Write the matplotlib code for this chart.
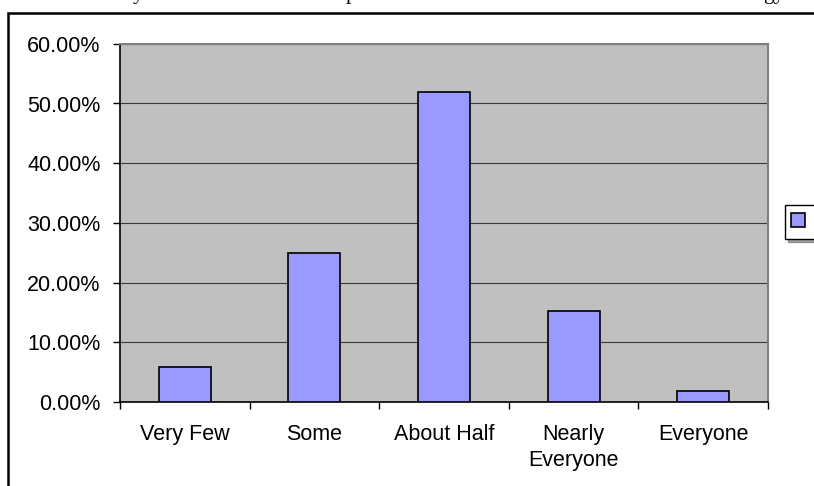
import matplotlib
matplotlib.use("Agg")
import matplotlib.pyplot as plt
import matplotlib.patches as mpatches
from matplotlib.ticker import FuncFormatter, FixedLocator

# survey answers and their share of responses
categories = ["Very Few", "Some", "About Half", "Nearly\nEveryone", "Everyone"]
shares = [5.8, 25.0, 52.0, 15.2, 1.9]
series_name = "Series1"
y_ticks = [0, 10, 20, 30, 40, 50, 60]

W, H, DPI = 814, 486, 100
BAR = "#9999FF"
PLOT_BG = "#C0C0C0"
FS = 15.5

plt.rcParams["font.family"] = ["Liberation Sans", "DejaVu Sans"]

fig = plt.figure(figsize=(W / DPI, H / DPI), dpi=DPI)
fig.patch.set_facecolor("white")

# plot area in pixel terms
left, right, top, bottom = 120, 768, 43.8, 402
ax = fig.add_axes([left / W, 1 - bottom / H, (right - left) / W, (bottom - top) / H])
ax.set_facecolor(PLOT_BG)

x = list(range(len(categories)))
ax.bar(x, shares, width=0.4, color=BAR, edgecolor="black", linewidth=1.2, zorder=3)

ax.set_xlim(-0.5, len(categories) - 0.5)
ax.set_ylim(0, 60)
ax.set_yticks(y_ticks)
ax.yaxis.set_major_formatter(FuncFormatter(lambda v, p: "%.2f%%" % v))
ax.grid(axis="y", color="#3a3a3a", linewidth=0.8, zorder=1)
ax.set_axisbelow(True)

# ticks on category boundaries, labels in the middle of each slot
ax.xaxis.set_major_locator(FixedLocator([i - 0.5 for i in range(len(categories) + 1)]))
ax.xaxis.set_major_formatter(FuncFormatter(lambda v, p: ""))
ax.xaxis.set_minor_locator(FixedLocator(x))
ax.set_xticklabels(categories, minor=True)
ax.tick_params(axis="x", which="major", length=5, width=1, color="black", direction="out")
ax.tick_params(axis="x", which="minor", length=0, pad=16, labelsize=FS)
ax.tick_params(axis="y", length=5, width=1, color="black", pad=9, labelsize=FS)
for lab in ax.get_xticklabels(minor=True):
    lab.set_linespacing(1.3)

for side in ("top", "right"):
    ax.spines[side].set_color("#808080")
    ax.spines[side].set_linewidth(1.5)
for side in ("left", "bottom"):
    ax.spines[side].set_color("black")
    ax.spines[side].set_linewidth(1.2)

# legend box pushed against the right edge
handle = mpatches.Patch(facecolor=BAR, edgecolor="black", linewidth=1.2, label=series_name)
fig.legend(handles=[handle], loc="center left", bbox_to_anchor=(785 / W, 1 - 222 / H),
           fontsize=FS, frameon=True, fancybox=False, shadow=True, edgecolor="black",
           handlelength=0.65, handleheight=0.65, handletextpad=0.5, borderpad=0.3,
           borderaxespad=0)

# chart border running off the canvas
fig.add_artist(mpatches.Rectangle((8 / W, -0.1), 1.2, 1 - 13 / H + 0.1, transform=fig.transFigure,
                                  fill=False, edgecolor="black", linewidth=1.8))

# heading above the chart, only its descenders reach into view
for s, px in [("y", 138), ("p", 351), ("gy", 774)]:
    fig.text(px / W, 1 + 0.5 / H, s, ha="center", va="baseline", fontsize=15.5,
             family=["Liberation Serif", "DejaVu Serif"])

fig.savefig("out.png", dpi=DPI)
